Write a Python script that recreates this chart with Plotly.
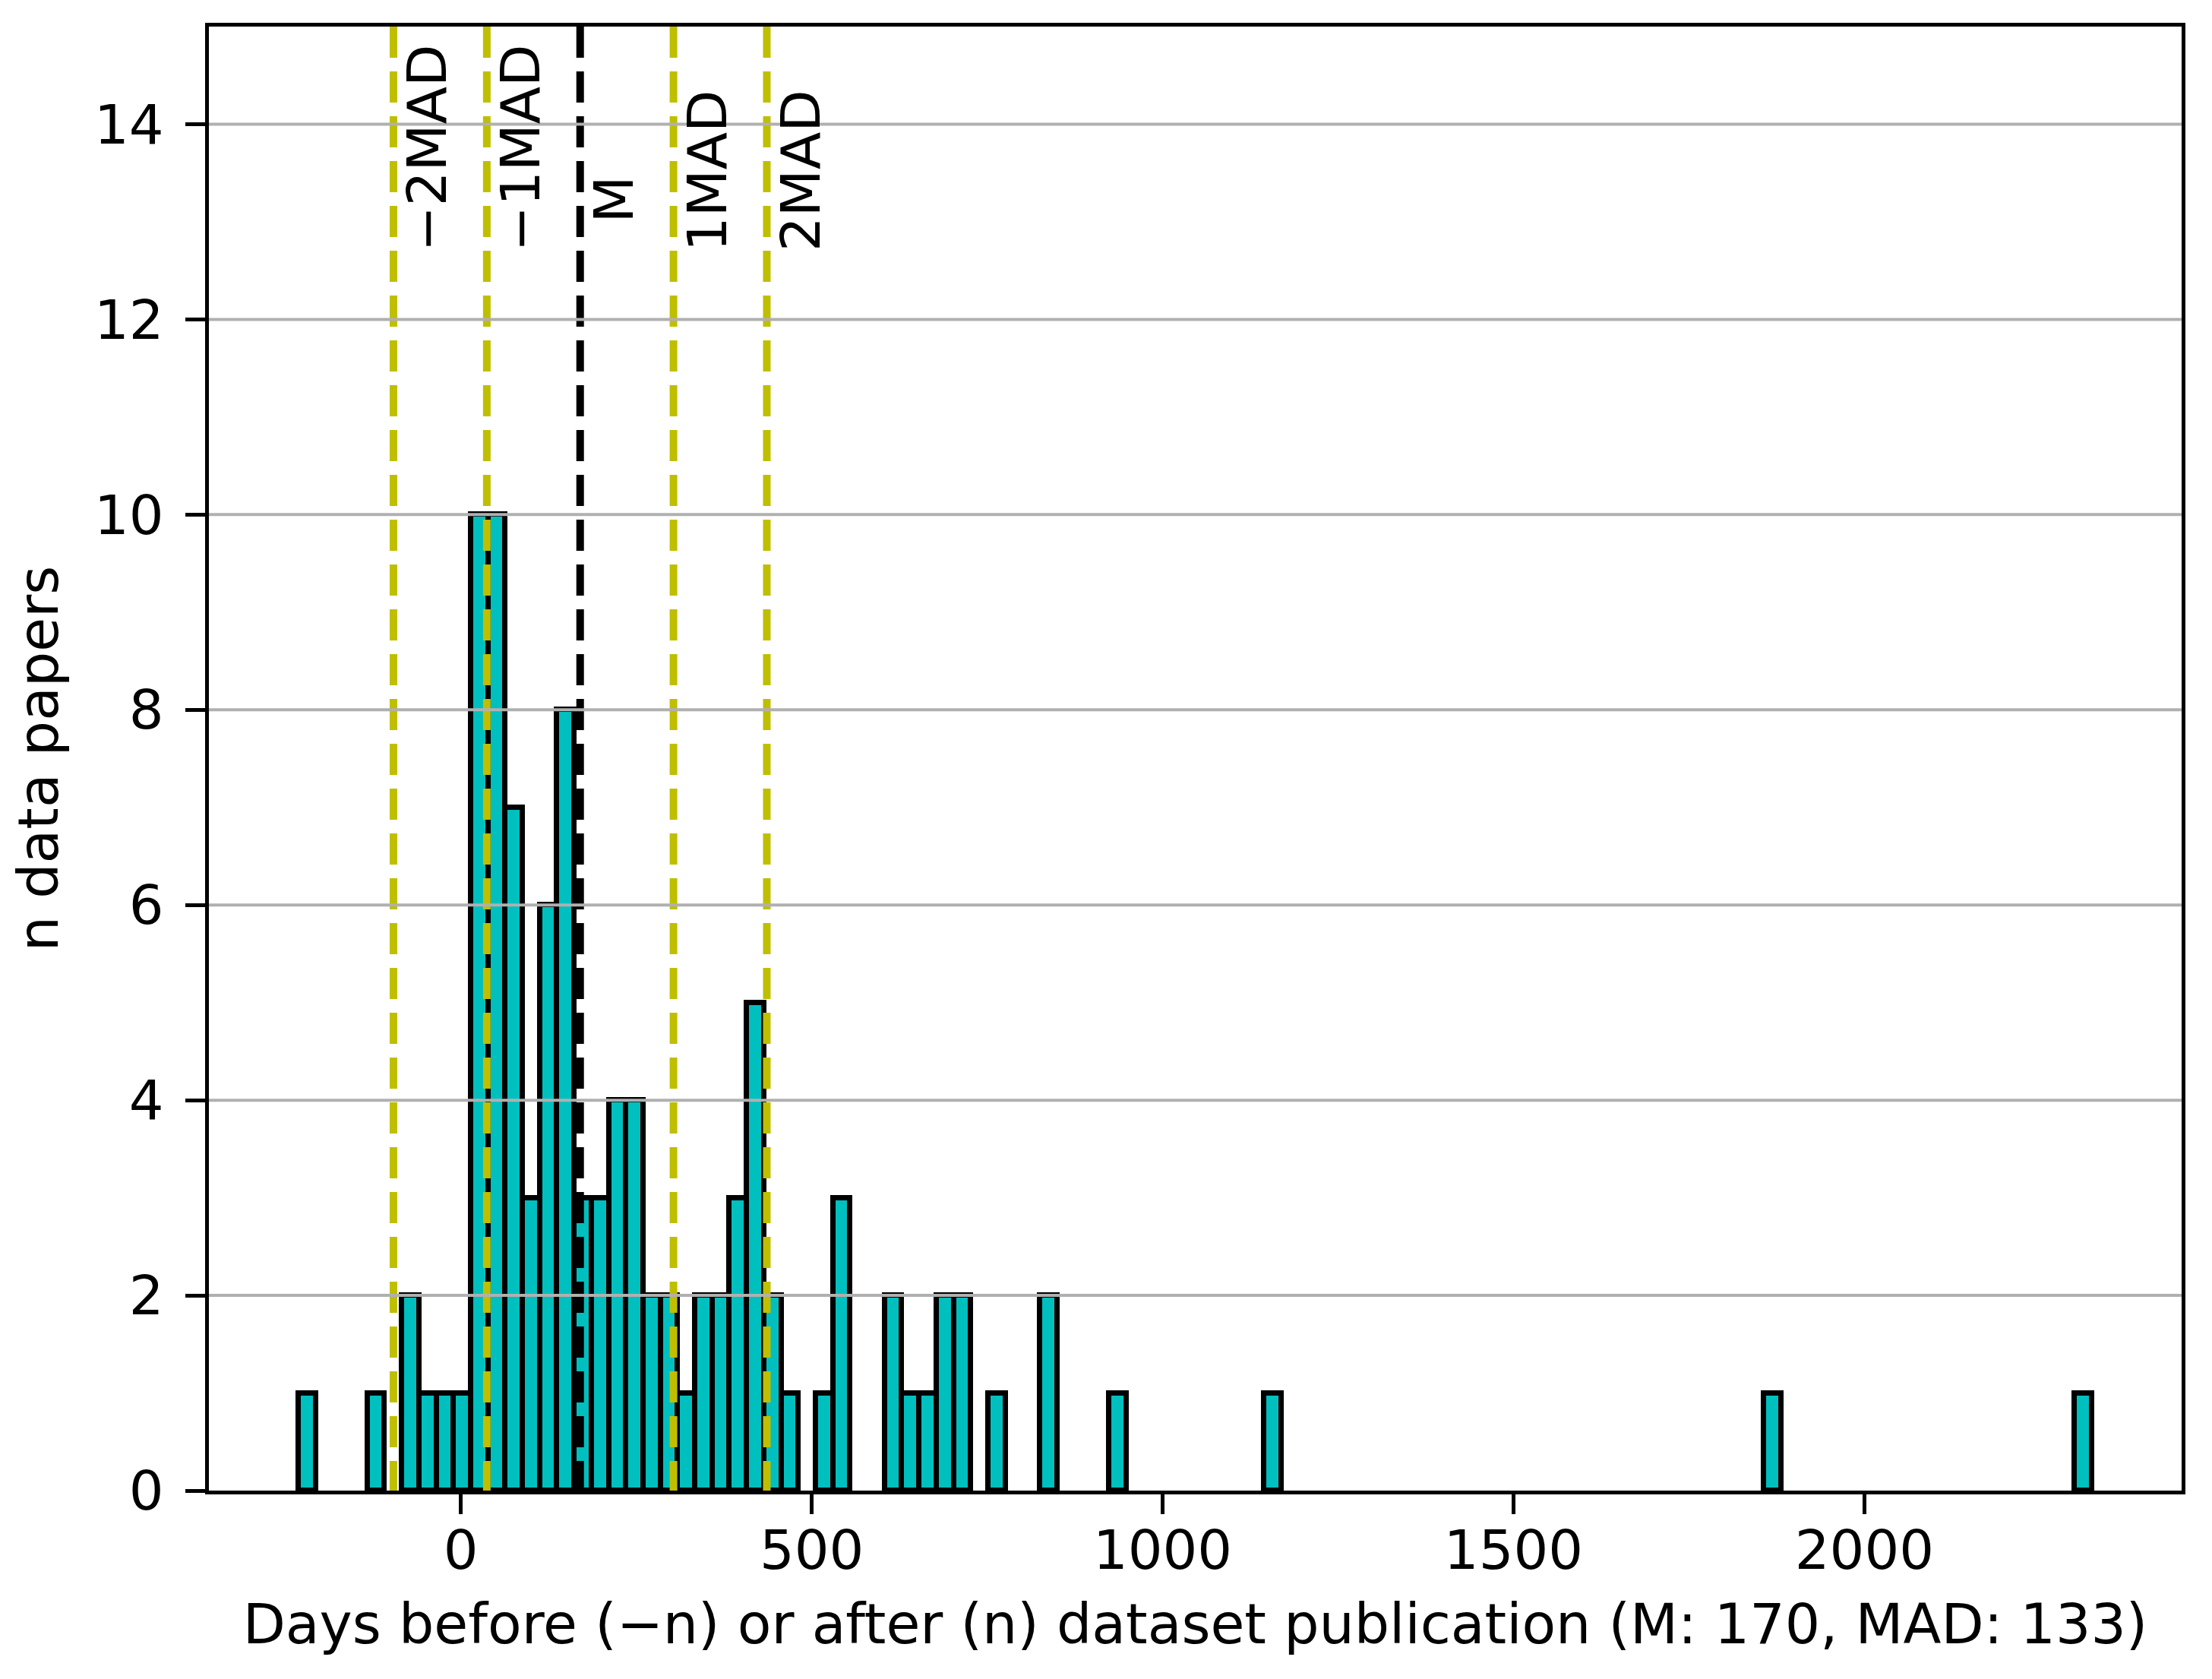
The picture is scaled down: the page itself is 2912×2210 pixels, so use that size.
import plotly.graph_objects as go

# ---- data ----
bin_start = -231.3          # left edge of first histogram bin (days)
bin_width = 24.57           # histogram bin width (days)
counts = [
    1, 0, 0, 0, 1, 0, 2, 1, 1, 1,
    10, 10, 7, 3, 6, 8, 3, 3, 4, 4,
    2, 2, 1, 2, 2, 3, 5, 2, 1, 0,
    1, 3, 0, 0, 2, 1, 1, 2, 2, 0,
    1, 0, 0, 2, 0, 0, 0, 1, 0, 0,
    0, 0, 0, 0, 0, 0, 1, 0, 0, 0,
    0, 0, 0, 0, 0, 0, 0, 0, 0, 0,
    0, 0, 0, 0, 0, 0, 0, 0, 0, 0,
    0, 0, 0, 0, 0, 1, 0, 0, 0, 0,
    0, 0, 0, 0, 0, 0, 0, 0, 0, 0,
    0, 0, 0, 1,
]
median_days = 170
mad_days = 133
line_offsets = [-2, -1, 0, 1, 2]
line_labels = ["\u22122MAD", "\u22121MAD", "M", "1MAD", "2MAD"]
x_ticks = [0, 500, 1000, 1500, 2000]
y_ticks = [0, 2, 4, 6, 8, 10, 12, 14]
x_title = "Days before (\u2212n) or after (n) dataset publication (M: 170, MAD: 133)"
y_title = "n data papers"

# ---- build ----
FONT = "DejaVu Sans"
FS = 72
FS_TITLE = 73
centers, heights = [], []
for i, c in enumerate(counts):
    if c > 0:
        centers.append(bin_start + (i + 0.5) * bin_width)
        heights.append(c)

fig = go.Figure()
fig.add_trace(go.Bar(
    x=centers, y=heights, width=bin_width,
    marker=dict(color="#00bfbf", line=dict(color="black", width=7)),
    showlegend=False, hoverinfo="skip",
))

for off, lab in zip(line_offsets, line_labels):
    xv = median_days + off * mad_days
    col = "black" if off == 0 else "#bfbf00"
    fig.add_trace(go.Scatter(
        x=[xv, xv], y=[15, 0], mode="lines",
        line=dict(color=col, width=10, dash="41px,18px"),
        showlegend=False, hoverinfo="skip",
    ))
    fig.add_annotation(
        x=xv, y=(12.97 if off == 0 else 12.68), xref="x", yref="y",
        text=lab, textangle=-90, showarrow=False,
        xanchor="left", yanchor="bottom", xshift=0,
        font=dict(family=FONT, size=FS, color="black"),
    )

for yv in y_ticks[1:]:
    fig.add_shape(type="line", xref="x domain", yref="y",
                  x0=0, x1=1, y0=yv, y1=yv, layer="above",
                  line=dict(color="#b0b0b0", width=4))

axis_common = dict(
    showline=True, linecolor="black", linewidth=5, mirror=True,
    ticks="outside", ticklen=26, tickwidth=5, tickcolor="black",
    showgrid=False, zeroline=False,
    tickfont=dict(family=FONT, size=FS, color="black"),
)

fig.update_layout(
    width=2912, height=2210,
    margin=dict(l=267, r=48, t=27, b=256, pad=0),
    paper_bgcolor="white", plot_bgcolor="white",
    font=dict(family=FONT, size=FS, color="black"),
    xaxis=dict(range=[-359, 2452], tickvals=x_ticks, ticklabelstandoff=-14,
               title=dict(text=x_title, standoff=32,
                          font=dict(family=FONT, size=FS_TITLE, color="black")),
               **axis_common),
    yaxis=dict(range=[0, 15], tickvals=y_ticks, ticklabelstandoff=14,
               title=dict(text=y_title, standoff=26,
                          font=dict(family=FONT, size=FS_TITLE, color="black")),
               **axis_common),
    bargap=0,
)

fig.write_html("out.html")
